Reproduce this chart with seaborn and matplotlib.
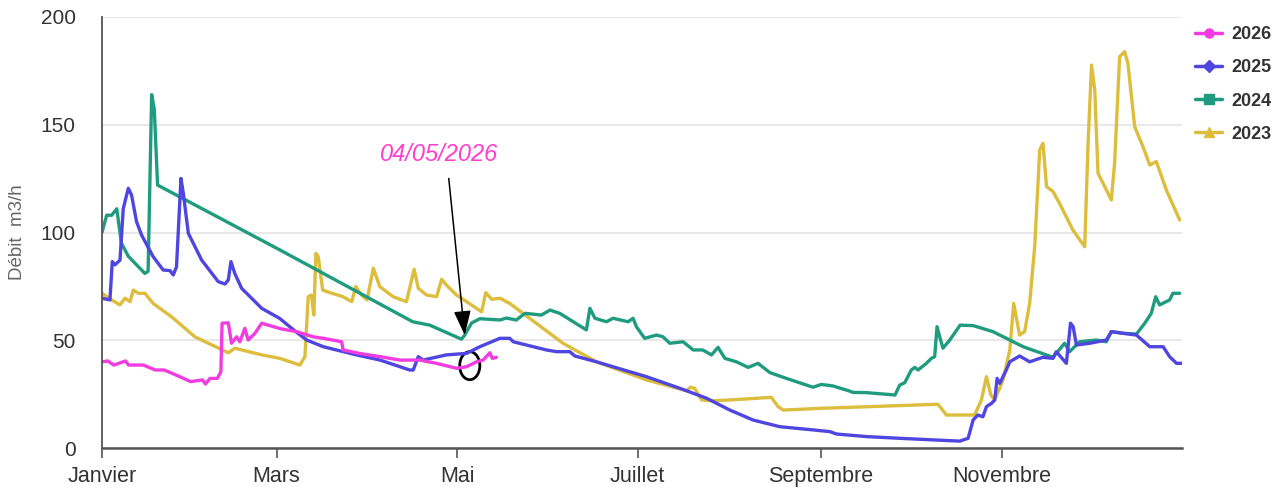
import pandas as pd
import seaborn as sns
import matplotlib.pyplot as plt
from matplotlib.lines import Line2D
from matplotlib.patches import Ellipse

# Day of year (0 = 1 janvier) and flow in m3/h
days_2023 = [0, 3.3, 6.1, 7.8, 9.5, 10.6, 12.3, 14.5, 17.3, 23.5,
             31.4, 42.7, 44.9, 54, 60.1, 66.9, 68.6, 69.7, 70.8, 71.6,
             72.3, 73.1, 74.6, 77, 81.5, 84.4, 85.8, 87.7, 89.6, 91.7,
             93.9, 98.4, 102.9, 105.5, 106.9, 109.7, 113.1, 114.8, 116.4, 119.8,
             123.2, 128.3, 129.7, 131.7, 134.5, 137.8, 142.3, 155.8, 167.1, 184,
             197.5, 198.9, 200.3, 202.6, 206.5, 212.2, 226.2, 228.5, 230.2, 242.6,
             282.5, 285.4, 294.9, 297.2, 298.9, 300.4, 301.7, 304.5, 306.8, 308.1,
             310.1, 311.8, 313.5, 315.2, 316.9, 318, 319.2, 321.4, 323.6, 328.1,
             332.1, 333.2, 334.4, 335.5, 336.6, 341.1, 342.2, 343.9, 345.6, 346.7,
             349, 351.8, 354.1, 356.3, 359.7, 364.2]
debit_2023 = [71.8, 68.7, 66.4, 69.5, 67.9, 73.3, 71.8, 71.8, 67.1, 60.9,
              51.6, 44.2, 46.3, 43.2, 41.6, 38.5, 42.4, 70.2, 71, 61.7,
              90.3, 88.8, 73.3, 72.1, 70.2, 67.9, 74.9, 71, 68.7, 83.4,
              74.9, 70.2, 67.9, 82.9, 74.1, 71, 70.2, 78.3, 75.6, 71,
              67.9, 63.2, 72.1, 69, 69.5, 67.1, 62.5, 48.6, 40, 31.6,
              26.6, 28.2, 27.7, 22.3, 21.9, 22.3, 23.5, 19.2, 17.6, 18.4,
              20.3, 15.3, 15.3, 22.3, 33.1, 24.6, 22.3, 31.6, 45.5, 67.1,
              52.4, 54, 67.1, 93.4, 138.3, 141.4, 121.3, 119, 113.5, 101.2,
              93.4, 139.8, 177.7, 166.1, 127.5, 115.1, 132.1, 181.6, 183.9, 178.5,
              149.1, 139.8, 131.3, 132.9, 119.7, 105.8]

days_2024 = [0, 1.6, 3.3, 5, 6.6, 8.9, 14.5, 15.6, 16.8, 17.7,
             18.8, 60, 105, 110.8, 121.5, 122.6, 124.9, 127.7, 134.5, 136.7,
             140, 143, 148.5, 151.4, 154.7, 163.7, 164.9, 166.6, 170.5, 172.7,
             177.8, 179.5, 180.6, 183.4, 187.4, 189.6, 191.9, 196.4, 199.8, 203,
             206, 208.2, 210.5, 214.4, 218.4, 221.7, 225.7, 231.3, 240.3, 243.1,
             247, 252.7, 253.8, 258.3, 268, 269.6, 271.3, 273.5, 274.7, 275.8,
             278.6, 280.3, 281.4, 282.2, 283.1, 284.2, 286.5, 290, 294.4, 301.1,
             311.3, 321.4, 325.3, 327, 330.4, 336, 339.4, 341.1, 345, 349.6,
             352.4, 354.6, 356.1, 357.4, 360.8, 361.9, 364.2]
debit_2024 = [100, 108, 108, 111, 95, 89, 81, 82, 164, 157,
              122, 92, 58.6, 57, 50.5, 52.4, 58, 60, 59.4, 60.3,
              59.4, 62.5, 61.7, 64, 62.5, 54.8, 64.8, 60.2, 58.6, 60.2,
              58.6, 60.2, 56.3, 50.9, 52.4, 51.6, 48.6, 49.3, 45.5, 45.5,
              43.2, 46.7, 41.6, 40, 37.4, 39.3, 35, 32.3, 28.2, 29.5,
              28.8, 26.4, 25.8, 25.7, 24.6, 29.2, 30.3, 36.2, 37.4, 36.2,
              39.3, 41.6, 42.4, 56.3, 51.6, 46.3, 50.1, 57, 56.8, 54,
              47, 42.1, 48.6, 44.7, 49.3, 50.1, 49.3, 54, 53.2, 52.9,
              57.9, 62.5, 70.2, 66.4, 68.7, 71.8, 71.8]

days_2025 = [0, 2.7, 3.5, 4.4, 6.1, 7.2, 8.9, 10, 11.7, 13.4,
             17.3, 20.7, 23, 24.1, 25.2, 26.7, 27.5, 29.2, 33.7, 39.3,
             41.6, 42.7, 43.6, 44.9, 47.2, 54, 60, 65.5, 69.2, 74.8,
             86, 94, 104, 105.2, 106.9, 108.5, 116.4, 123.2, 127.7, 134.5,
             137.8, 139, 150.2, 153.6, 158.1, 159.8, 167.1, 184, 195.3, 204.3,
             212.2, 220, 229, 240.3, 246, 248.2, 258.3, 269.6, 282, 289.9,
             292.7, 294.4, 296, 297.7, 298.9, 300.6, 301.7, 302.5, 303.4, 305.6,
             306.8, 310.1, 313.5, 318, 321.4, 322.5, 325.9, 327.3, 328.2, 329.3,
             333.8, 339.4, 341.1, 349.6, 354.1, 358.6, 360.8, 363.1, 365]
debit_2025 = [69.5, 68.7, 86.5, 85, 87.2, 111, 120.5, 117.4, 105, 98.8,
              88.8, 82.6, 82.3, 80.3, 84.1, 125.1, 118.2, 99.6, 87.2, 77.2,
              76.1, 78, 86.5, 81, 74.1, 64.8, 60.2, 54, 50.1, 47,
              43.2, 40.8, 36.2, 36.2, 42.4, 40.8, 43.2, 43.9, 47, 50.9,
              50.9, 49.3, 45.5, 44.7, 44.7, 42.7, 40, 33.1, 27.7, 23.1,
              17.6, 13, 9.9, 8.4, 7.6, 6.5, 5.3, 4.5, 3.7, 3.2,
              4.5, 13, 15.3, 14.5, 19.2, 20.7, 22.3, 32.3, 30, 36.2,
              40, 42.7, 40, 42.1, 41.6, 44.7, 39.3, 57.9, 56.3, 47.8,
              48.6, 50.1, 54, 52.4, 47, 47, 42.4, 39.3, 39.3]

days_2026 = [0, 2, 4, 8, 9, 14, 18, 21, 25, 30,
             34, 35, 36.5, 39, 40.2, 40.6, 42.7, 43.8, 45.5, 46.6,
             48.3, 49.4, 51.7, 54, 56, 60.5, 65.8, 71.4, 74.8, 78,
             81, 81.5, 87, 94, 100.7, 107.4, 113, 119.8, 123.2, 126.6,
             128.8, 131.1, 131.9, 133.3]
debit_2026 = [40, 40.4, 38.5, 40.4, 38.5, 38.5, 36.2, 36.2, 33.9, 30.8,
              31.6, 29.7, 32.3, 32.3, 35.4, 57.9, 58.1, 48.6, 51.6, 49.3,
              55.5, 50.1, 53.2, 57.9, 57.1, 55.3, 54, 51.6, 50.9, 50.1,
              49.3, 45.5, 43.9, 42.4, 40.8, 40.8, 39.3, 37, 37.7, 40,
              40.8, 44.2, 41.6, 42.1]

years = ["2026", "2025", "2024", "2023"]
colors = ["#f03ce0", "#4f45e0", "#1f9c80", "#dcbd3c"]
markers = ["o", "D", "s", "^"]
month_days = [0, 59, 120, 181, 243, 304]
month_labels = ["Janvier", "Mars", "Mai", "Juillet", "Septembre", "Novembre"]

series = {"2023": (days_2023, debit_2023), "2024": (days_2024, debit_2024),
          "2025": (days_2025, debit_2025), "2026": (days_2026, debit_2026)}
df = pd.concat([pd.DataFrame({"jour": d, "debit": v, "annee": y})
                for y, (d, v) in series.items()], ignore_index=True)

sns.set_theme(style="white")
plt.rcParams['font.family'] = ['Liberation Sans', 'DejaVu Sans']

fig = plt.figure(figsize=(12.79, 4.94), dpi=100)
ax = fig.add_axes([0.0797, 0.0931, 0.8445, 0.8725])

palette = dict(zip(years, colors))
sns.lineplot(data=df, x="jour", y="debit", hue="annee",
             hue_order=["2023", "2024", "2025", "2026"], palette=palette,
             estimator=None, sort=False, lw=2.4, legend=False, ax=ax,
             solid_joinstyle="round", solid_capstyle="round")

ax.set_xlim(0, 365)
ax.set_ylim(0, 200)
ax.set_yticks([0, 50, 100, 150, 200])
ax.set_xticks(month_days)
ax.set_xticklabels(month_labels)
ax.yaxis.grid(True, color="#e4e4e4", lw=1.2)
ax.set_axisbelow(True)
for s in ["top", "right"]:
    ax.spines[s].set_visible(False)
ax.spines["left"].set_color("#555555")
ax.spines["left"].set_linewidth(1.3)
ax.spines["bottom"].set_color("#555555")
ax.spines["bottom"].set_linewidth(1.8)
ax.tick_params(axis="x", length=7, width=1.2, color="#555555", pad=6,
               labelsize=15.5, labelcolor="#333333", bottom=True)
ax.tick_params(axis="y", length=0, pad=19, labelsize=15, labelcolor="#333333")
ax.set_xlabel("")
ax.set_ylabel("Débit  m3/h", fontsize=13.5, color="#666666")
ax.yaxis.set_label_coords(-0.07, 0.5)

# annotation for the last 2026 reading
ax.annotate("", xy=(122.6, 52.4), xytext=(117.2, 125.1),
            arrowprops=dict(arrowstyle="-|>,head_length=1.0,head_width=0.35",
                            color="black", lw=1.1, mutation_scale=15,
                            shrinkA=0, shrinkB=0))
ax.text(114, 136, "04/05/2026", color="#ff3dd0", style="italic",
        fontsize=17, ha="center", va="center")
ax.add_patch(Ellipse((124.3, 38.2), width=6.8, height=13, fill=False,
                     ec="black", lw=2))

handles = [Line2D([], [], color=c, marker=m, lw=2.5, markersize=6.5)
           for c, m in zip(colors, markers)]
fig.legend(handles, years, loc="upper left",
           bbox_to_anchor=(1186 / 1279, 1 - 17 / 494), frameon=False,
           borderpad=0, handlelength=1.5, handletextpad=0.5,
           labelspacing=0.9, prop={"weight": "bold", "size": 13},
           labelcolor="#333333")

plt.savefig("out.png", dpi=100)
